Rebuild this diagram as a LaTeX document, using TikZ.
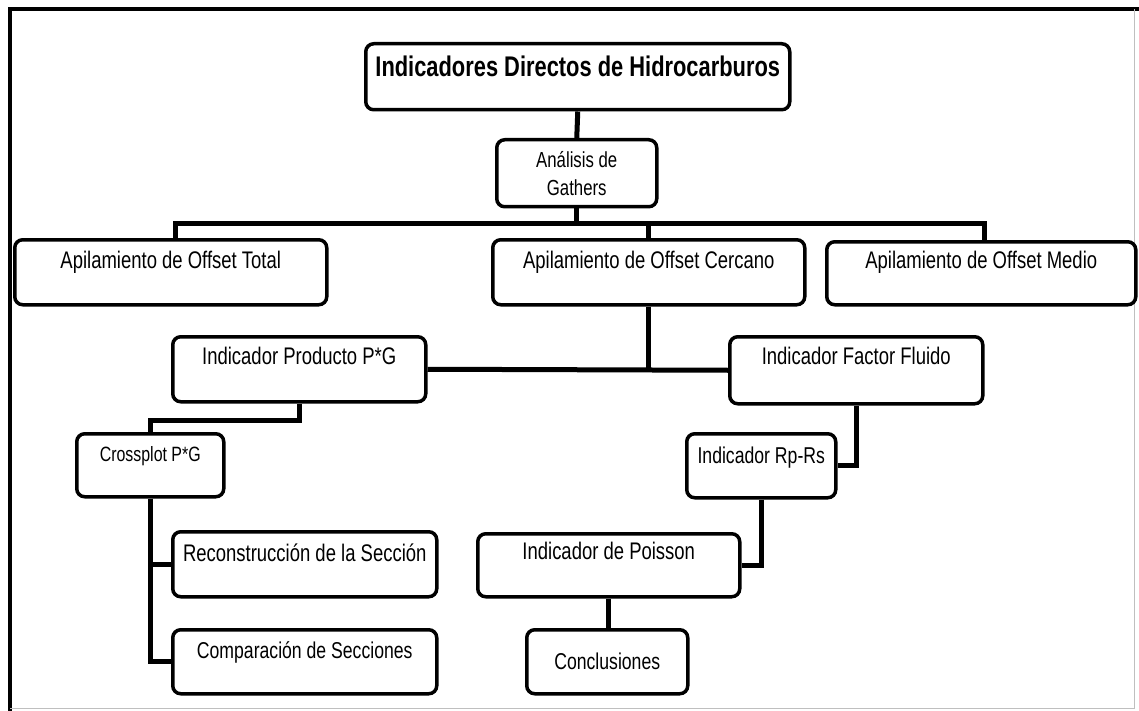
\documentclass[tikz,border=0pt]{standalone}
\usepackage{fontspec}
\setmainfont{Liberation Sans}[FakeStretch=0.77]
\usepackage{tikz}
\usetikzlibrary{shapes}
\usetikzlibrary{arrows}

\begin{document}
\begin{tikzpicture}[x=1pt,y=-1pt]
\tikzstyle{enlace}=[line width=5pt]
\tikzset{caja/.style={draw,line width=3.5pt,rounded corners=8pt,inner sep=0pt,anchor=north west,
font=\fontsize{#1}{28}\selectfont},
caja/.default={24}}
\useasboundingbox (0,0) rectangle (1139,711);
\draw[line width=4pt] (1139,9) -- (10,9) -- (10,711);
\draw[gray!50,line width=1pt] (10,708) -- (1134,708) -- (1134,9);
\node [caja=28.4,minimum width=424pt,text height=33pt,text depth=33pt] (titulo) at (364,42)
{\bfseries Indicadores Directos de Hidrocarburos};
\node [caja=21.8,minimum width=160pt,minimum height=67pt,align=center] (analisis) at (495,138)
{\fontsize{21.8}{28}\selectfont An\'alisis de\\Gathers};
\node [caja,minimum width=312pt,text height=29pt,text depth=36pt] (total) at (13,238) {Apilamiento de Offset Total};
\node [caja,minimum width=312pt,text height=29pt,text depth=36pt] (cercano) at (491,238) {Apilamiento de Offset Cercano};
\node [caja,minimum width=309pt,text height=27pt,text depth=36pt] (medio) at (825,240) {Apilamiento de Offset Medio};
\node [caja,minimum width=253pt,text height=28pt,text depth=37pt] (producto) at (171,335) {Indicador Producto P*G};
\node [caja,minimum width=253pt,text height=28pt,text depth=39pt] (fluido) at (728,335) {Indicador Factor Fluido};
\node [caja=20.7,minimum width=147pt,text height=28pt,text depth=35pt] (crossplot) at (75,432) {Crossplot P*G};
\node [caja=22.9,minimum width=149pt,text height=30pt,text depth=34pt] (rprs) at (685,432) {Indicador Rp-Rs};
\node [caja,minimum width=264pt,text height=30pt,text depth=35pt] (reconstruccion) at (171,530) {Reconstrucci\'on de la Secci\'on};
\node [caja=22.9,minimum width=264pt,text height=29pt,text depth=35pt] (comparacion) at (171,628) {Comparaci\'on de Secciones};
\node [caja,minimum width=262pt,text height=26pt,text depth=37pt] (poisson) at (476,532) {Indicador de Poisson};
\node [caja=22.9,minimum width=161pt,text height=40pt,text depth=24pt] (conclusiones) at (525,628) {Conclusiones};
\coordinate (barraizq) at (175,224);
\coordinate (barrader) at (984,224);
\draw [enlace] (titulo.south) -- (analisis.north);
\draw [enlace] (analisis.south) -- (analisis.south |- barraizq);
\draw [enlace] (total.north -| barraizq) -- (barraizq) -- (barrader) -- (medio.north -| barrader);
\draw [enlace] (cercano.north) -- (cercano.north |- barraizq);
\draw [enlace] (cercano.south) -- (cercano.south |- producto.east);
\draw [enlace] (producto.east) -- (fluido.west);
\draw [enlace] (producto.south) -- ++(0,17) -| (crossplot.north);
\draw [enlace] (crossplot.south) |- (reconstruccion.west);
\draw [enlace] (crossplot.south) |- (comparacion.west);
\draw [enlace] (fluido.south) |- (rprs.east);
\draw [enlace] (rprs.south) |- (poisson.east);
\draw [enlace] (poisson.south) -- (poisson.south |- conclusiones.north);
\end{tikzpicture}
\end{document}
